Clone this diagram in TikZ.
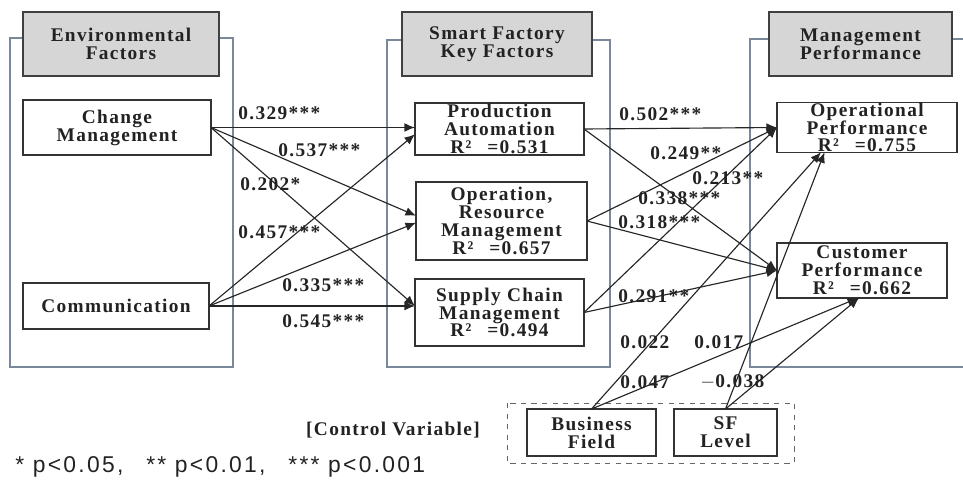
\documentclass[tikz,border=0pt]{standalone}
\usepackage{fontspec}
\setmainfont{Liberation Serif}[LetterSpace=7]
\setsansfont{Liberation Sans}[LetterSpace=10]
\usetikzlibrary{arrows.meta}

\definecolor{framecol}{RGB}{122,136,156}
\definecolor{headfill}{RGB}{214,214,214}
\definecolor{inkcol}{RGB}{34,34,34}

\begin{document}
\begin{tikzpicture}[>={Latex[length=6pt,width=5pt]},
	every node/.style={text=inkcol,font=\bfseries\fontsize{11}{10.2}\selectfont},
	frame/.style={draw=framecol,line width=.8pt},
	head/.style={draw=black!75,line width=1pt,fill=headfill,align=center,inner sep=0pt,outer sep=0pt},
	var/.style={draw=black!80,line width=.8pt,fill=white,align=center,inner sep=0pt,outer sep=0pt},
	path/.style={->,draw=black!85,line width=.65pt},
	coef/.style={anchor=west,inner sep=0pt}]
	\useasboundingbox (0,0) rectangle (19.26,-9.68);

	% group frames
	\draw[frame] (0.2,-0.76) rectangle (4.66,-7.34);
	\draw[frame] (7.74,-0.8) rectangle (12.2,-7.34);
	\draw[frame] (19.26,-0.78) -- (15,-0.78) -- (15,-7.34) -- (19.26,-7.34);
	\draw[black!60,dashed,line width=.5pt] (10.14,-8.06) rectangle (15.88,-9.26);

	% headers
	\node[head,minimum width=3.92cm,minimum height=1.28cm] (env) at (2.42,-0.88) {Environmental\\Factors};
	\node[head,minimum width=3.8cm,minimum height=1.28cm] (sfk) at (9.94,-0.88) {Smart Factory\\Key Factors};
	\node[head,minimum width=3.66cm,minimum height=1.28cm] (mgp) at (17.21,-0.88) {Management\\Performance};

	% variables
	\node[var,minimum width=3.76cm,minimum height=1.1cm] (chg) at (2.34,-2.55) {Change\\Management};
	\node[var,minimum width=3.72cm,minimum height=.92cm] (com) at (2.32,-6.12) {Communication};
	\node[var,minimum width=3.38cm,minimum height=1.04cm] (pa) at (9.99,-2.58) {Production\\Automation\\R²\enspace\ =0.531};
	\node[var,minimum width=3.42cm,minimum height=1.56cm] (orm) at (10.03,-4.42) {Operation,\\Resource\\Management\\R²\enspace\ =0.657};
	\node[var,minimum width=3.38cm,minimum height=1.34cm] (scm) at (9.99,-6.25) {Supply Chain\\Management\\R²\enspace\ =0.494};
	\node[var,minimum width=3.6cm,minimum height=.98cm] (op) at (17.34,-2.55) {Operational\\Performance\\R²\enspace\ =0.755};
	\node[var,minimum width=3.4cm,minimum height=1.1cm] (cp) at (17.24,-5.41) {Customer\\Performance\\R²\enspace\ =0.662};
	\node[var,minimum width=2.58cm,minimum height=.94cm] (bf) at (11.83,-8.65) {Business\\Field};
	\node[var,minimum width=2.06cm,minimum height=.94cm] (sfl) at (14.51,-8.65) {SF\\Level};

	% environmental factors -> key factors
	\draw[path] (chg.east) -- (pa.west |- chg.east);
	\draw[path] (chg.east) -- ([yshift=3pt]orm.west);
	\draw[path] (chg.east) -- (scm.west |- com.east);
	\draw[path] (com.east) -- ([yshift=-3pt]pa.west);
	\draw[path] (com.east) -- ([yshift=-1pt]orm.west);
	\draw[path] (com.east) -- (scm.west |- com.east);

	% key factors -> performance
	\draw[path] (pa.east) -- (op.west);
	\draw[path] (pa.east) -- (cp.west);
	\draw[path] (orm.east) -- (op.west);
	\draw[path] (orm.east) -- (cp.west);
	\draw[path] (scm.east) -- (op.west);
	\draw[path] (scm.east) -- (cp.west);

	% control variables
	\draw[path] (bf.north) -- ([xshift=.88cm]op.south west);
	\draw[path] (bf.north) -- ([xshift=-.08cm]cp.south);
	\draw[path] (sfl.north) -- ([xshift=.95cm]op.south west);
	\draw[path] (sfl.north) -- ([xshift=-.06cm]cp.south);

	% path coefficients
	\node[coef] (c329) at (4.76,-2.26) {0.329***};
	\node[coef] (c537) at (5.56,-3.0) {0.537***};
	\node[coef] (c202) at (4.8,-3.68) {0.202*};
	\node[coef] (c457) at (4.76,-4.64) {0.457***};
	\node[coef] (c335) at (5.64,-5.7) {0.335***};
	\node[coef] (c545) at (5.64,-6.42) {0.545***};
	\node[coef] (c502) at (12.38,-2.28) {0.502***};
	\node[coef] (c249) at (13.0,-3.06) {0.249**};
	\node[coef] (c213) at (13.84,-3.56) {0.213**};
	\node[coef] (c338) at (12.76,-3.96) {0.338***};
	\node[coef] (c318) at (12.36,-4.44) {0.318***};
	\node[coef] (c291) at (12.36,-5.92) {0.291**};
	\node[coef] (c022) at (12.4,-6.84) {0.022};
	\node[coef] (c017) at (13.88,-6.84) {0.017};
	\node[coef] (c047) at (12.4,-7.64) {0.047};
	\node[coef] (c038) at (14.0,-7.64) {$-$0.038};

	\node (ctrl) at (7.86,-8.6) {[Control Variable]};
	\node[anchor=west,inner sep=0pt,font=\sffamily\fontsize{13}{15}\selectfont] (note) at (0.3,-9.34)
		{* p<0.05,\quad ** p<0.01,\quad *** p<0.001};
\end{tikzpicture}
\end{document}
